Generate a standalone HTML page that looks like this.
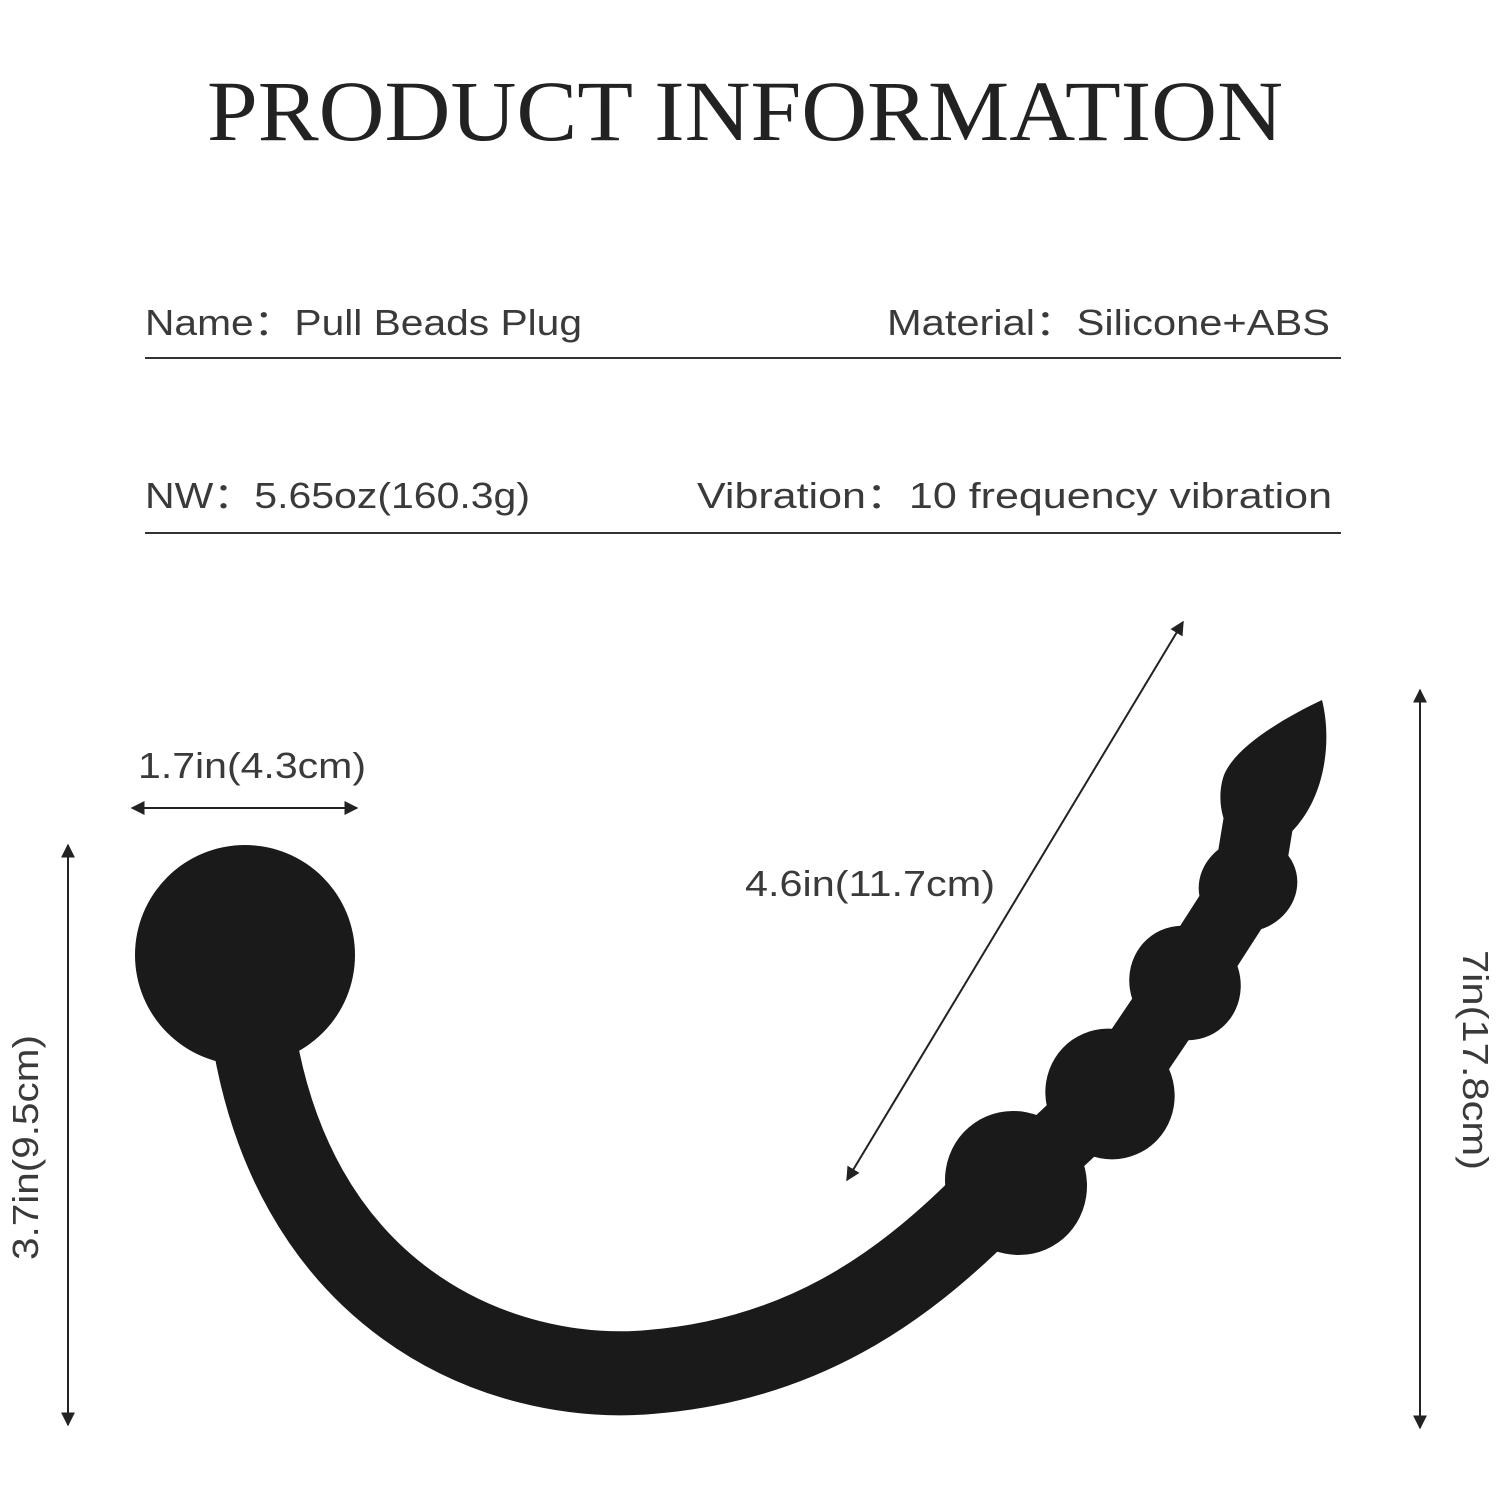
<!DOCTYPE html>
<html><head><meta charset="utf-8"><style>
html,body{margin:0;padding:0;background:#fff;}
svg{display:block;}
</style></head><body>
<svg width="1500" height="1500" viewBox="0 0 1500 1500" xmlns="http://www.w3.org/2000/svg">
<defs>
<marker id="a" viewBox="0 0 10 10" refX="9" refY="5" markerWidth="7" markerHeight="7" orient="auto-start-reverse">
<path d="M0,0 L10,5 L0,10 z" fill="#222"/></marker>
</defs>
<text x="207" y="140" font-family="Liberation Serif, serif" font-size="86" fill="#222" textLength="1076" lengthAdjust="spacingAndGlyphs">PRODUCT INFORMATION</text>

<g font-family="Liberation Sans, 'Noto Sans CJK SC', DejaVu Sans, sans-serif" font-size="36" fill="#3a3a3a">
<text x="145" y="335" textLength="437" lengthAdjust="spacingAndGlyphs">Name：Pull Beads Plug</text>
<text x="887" y="335" textLength="443" lengthAdjust="spacingAndGlyphs">Material：Silicone+ABS</text>
<text x="145" y="508" textLength="385" lengthAdjust="spacingAndGlyphs">NW：5.65oz(160.3g)</text>
<text x="697" y="508" textLength="635" lengthAdjust="spacingAndGlyphs">Vibration：10 frequency vibration</text>
</g>
<line x1="145" y1="358" x2="1341" y2="358" stroke="#333" stroke-width="2"/>
<line x1="145" y1="533" x2="1341" y2="533" stroke="#333" stroke-width="2"/>

<g stroke="#222" stroke-width="2" fill="none">
<line x1="132" y1="808" x2="357" y2="808" marker-start="url(#a)" marker-end="url(#a)"/>
<line x1="68" y1="845" x2="68" y2="1425" marker-start="url(#a)" marker-end="url(#a)"/>
<line x1="1183" y1="622" x2="847" y2="1180" marker-start="url(#a)" marker-end="url(#a)"/>
<line x1="1420" y1="690" x2="1420" y2="1428" marker-start="url(#a)" marker-end="url(#a)"/>
</g>
<g font-family="Liberation Sans, DejaVu Sans, sans-serif" font-size="36" fill="#3a3a3a">
<text x="138" y="778" textLength="228" lengthAdjust="spacingAndGlyphs">1.7in(4.3cm)</text>
<text x="745" y="896" textLength="250" lengthAdjust="spacingAndGlyphs">4.6in(11.7cm)</text>
<text transform="translate(38,1260) rotate(-90)" textLength="225" lengthAdjust="spacingAndGlyphs">3.7in(9.5cm)</text>
<text transform="translate(1463,950) rotate(90)" textLength="220" lengthAdjust="spacingAndGlyphs">7in(17.8cm)</text>
</g>

<g fill="#1a1a1a">
<path d="M 250 1010 C 285 1300, 500 1385, 650 1372 C 800 1360, 900 1290, 985 1205" stroke="#1a1a1a" stroke-width="84" fill="none" stroke-linecap="round"/>
<circle cx="245" cy="955" r="110"/>
<polyline points="1016,1182 1110,1094 1185,983 1248,885 1262,800" stroke="#1a1a1a" stroke-width="70" fill="none" stroke-linejoin="round"/>
<ellipse cx="1016" cy="1183" rx="70" ry="73" transform="rotate(-35 1016 1183)"/>
<ellipse cx="1110" cy="1094" rx="64" ry="66" transform="rotate(-35 1110 1094)"/>
<ellipse cx="1185" cy="983" rx="55" ry="58" transform="rotate(-30 1185 983)"/>
<ellipse cx="1248" cy="885" rx="50" ry="46" transform="rotate(-25 1248 885)"/>
<path d="M1255 848 C1222 842,1215 800,1224 775 C1236 745,1290 715,1322 700 C1332 740,1325 790,1300 822 C1288 838,1272 850,1255 848 Z"/>
</g>
</svg>
</body></html>
